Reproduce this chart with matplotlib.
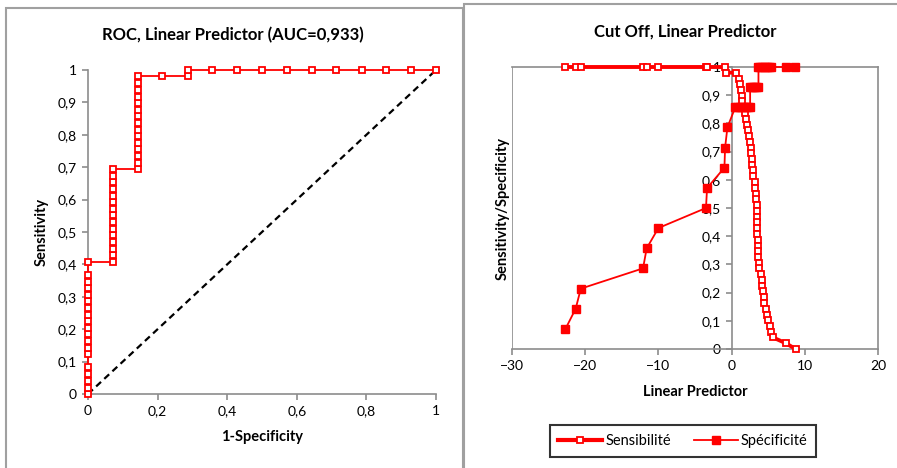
import matplotlib.pyplot as plt
from matplotlib.patches import Rectangle
from matplotlib.ticker import FuncFormatter
from matplotlib.lines import Line2D

plt.rcParams['font.family'] = ['Lato', 'DejaVu Sans']

# ROC curve points (1-specificity, sensitivity)
roc_fpr = [0, 0, 0, 0, 0, 0, 0, 0, 0, 0, 0, 0, 0, 0, 0, 0, 0, 0, 0,
           0.071, 0.071, 0.071, 0.071, 0.071, 0.071, 0.071, 0.071, 0.071, 0.071, 0.071, 0.071, 0.071, 0.071, 0.071,
           0.143, 0.143, 0.143, 0.143, 0.143, 0.143, 0.143, 0.143, 0.143, 0.143, 0.143, 0.143, 0.143, 0.143, 0.143,
           0.214, 0.286, 0.286, 0.357, 0.429, 0.5, 0.571, 0.643, 0.714, 0.786, 0.857, 0.929, 1.0]
roc_tpr = [0, 0.020, 0.041, 0.061, 0.082, 0.122, 0.143, 0.163, 0.184, 0.204, 0.224, 0.245, 0.265, 0.286, 0.306,
           0.327, 0.347, 0.367, 0.408,
           0.408, 0.429, 0.449, 0.469, 0.490, 0.510, 0.531, 0.551, 0.571, 0.592, 0.612, 0.633, 0.653, 0.673, 0.694,
           0.694, 0.714, 0.735, 0.755, 0.776, 0.796, 0.816, 0.837, 0.857, 0.878, 0.898, 0.918, 0.939, 0.959, 0.980,
           0.980, 0.980, 1, 1, 1, 1, 1, 1, 1, 1, 1, 1, 1]

# cut off chart: sensitivity vs linear predictor
sens_x = [-22.7, -21.2, -20.6, -12.1, -11.6, -10.1, -3.5, -3.3, -0.9, -0.75, 0.6,
          0.98, 1.16, 1.30, 1.40, 1.48, 1.64, 1.85, 1.98, 2.16, 2.30, 2.43, 2.53, 2.63, 2.67, 2.76, 2.85, 2.90, 2.98,
          3.21, 3.26, 3.31, 3.39, 3.45, 3.45, 3.49, 3.49, 3.53, 3.53, 3.56, 3.58, 3.62, 3.67, 3.72, 3.80,
          4.04, 4.13, 4.17, 4.27, 4.40, 4.49, 4.68, 4.86, 5.03, 5.23, 5.40, 5.64, 7.45, 8.73]
sens_y = [1, 1, 1, 1, 1, 1, 1, 1, 1, 0.980, 0.980,
          0.959, 0.939, 0.918, 0.898, 0.878, 0.857, 0.837, 0.816, 0.796, 0.776, 0.755, 0.735, 0.714, 0.694, 0.673,
          0.653, 0.633, 0.612, 0.592, 0.571, 0.551, 0.531, 0.510, 0.490, 0.469, 0.449, 0.429, 0.408, 0.388, 0.367,
          0.347, 0.327, 0.306, 0.286, 0.265, 0.245, 0.224, 0.204, 0.184, 0.163, 0.143, 0.122, 0.102, 0.082, 0.061,
          0.041, 0.020, 0]

# specificity vs linear predictor
spec_x = [-22.7, -21.3, -20.6, -12.1, -11.6, -10.0, -3.5, -3.35, -0.98, -0.89, -0.57,
          0.5, 0.8, 1.1, 1.4, 1.7, 2.0, 2.3, 2.53,
          2.53, 2.8, 3.1, 3.4, 3.67,
          3.67, 3.9, 4.2, 4.5, 4.8, 5.1, 5.4, 7.4, 8.7]
spec_y = [0.071, 0.143, 0.214, 0.286, 0.357, 0.429, 0.5, 0.571, 0.643, 0.714, 0.786,
          0.857, 0.857, 0.857, 0.857, 0.857, 0.857, 0.857, 0.857,
          0.929, 0.929, 0.929, 0.929, 0.929,
          1, 1, 1, 1, 1, 1, 1, 1, 1]

W, H = 897, 468
gray = '#8c8c8c'
red = '#ff0000'

def comma(v, pos):
    s = ('%g' % round(v, 2))
    return s.replace('.', ',')

fig = plt.figure(figsize=(W / 100, H / 100), dpi=100)

# the two chart frames
fig.patches.append(Rectangle((5.5 / W, -0.05), 457 / W, 1 - 8 / H + 0.05, transform=fig.transFigure,
                             fill=False, edgecolor='#a0a0a0', lw=1.5))
fig.patches.append(Rectangle((463.5 / W, -0.05), 0.6, 1 - 4.5 / H + 0.05, transform=fig.transFigure,
                             fill=False, edgecolor='#a0a0a0', lw=1.5))

# ---- ROC chart ----
ax1 = fig.add_axes([88 / W, (H - 394) / H, 348 / W, 324 / H])
ax1.plot([0, 1], [0, 1], color='black', ls=(0, (3, 2)), lw=1.6, zorder=2)
ax1.plot(roc_fpr, roc_tpr, color=red, lw=1.3, marker='s', ms=5, mfc='white', mec=red, mew=1.3,
         clip_on=False, zorder=3)
ax1.set_xlim(0, 1)
ax1.set_ylim(0, 1)
ax1.set_xticks([0, 0.2, 0.4, 0.6, 0.8, 1])
ax1.set_yticks([i / 10 for i in range(11)])
ax1.xaxis.set_major_formatter(FuncFormatter(comma))
ax1.yaxis.set_major_formatter(FuncFormatter(comma))
for s in ['top', 'right']:
    ax1.spines[s].set_visible(False)
for s in ['left', 'bottom']:
    ax1.spines[s].set_color(gray)
    ax1.spines[s].set_linewidth(1.2)
ax1.tick_params(direction='out', length=4, color=gray, width=1.2, labelsize=10, pad=4)
fig.text(233 / W, 1 - 35 / H, 'ROC, Linear Predictor (AUC=0,933)', fontsize=12, fontweight='bold',
         ha='center', va='center')
ax1.set_xlabel('1-Specificity', fontsize=10.5, fontweight='bold', va='center')
ax1.xaxis.set_label_coords(0.5, (394 - 437) / 324)
ax1.set_ylabel('Sensitivity', fontsize=10.5, fontweight='bold', va='center')
ax1.yaxis.set_label_coords((42 - 88) / 348, 0.5)

# ---- cut off chart ----
ax2 = fig.add_axes([512 / W, (H - 349) / H, 366 / W, 282 / H])
ax2.plot(sens_x, sens_y, color=red, lw=2.8, marker='s', ms=5, mfc='white', mec=red, mew=1.3,
         clip_on=False, zorder=3, label='Sensibilité')
ax2.plot(spec_x, spec_y, color=red, lw=1.3, marker='s', ms=5.5, mfc=red, mec=red,
         clip_on=False, zorder=4, label='Spécificité')
ax2.set_xlim(-30, 20)
ax2.set_ylim(0, 1)
ax2.set_xticks([-30, -20, -10, 0, 10, 20])
ax2.set_yticks([i / 10 for i in range(11)])
ax2.yaxis.set_major_formatter(FuncFormatter(comma))
ax2.spines['left'].set_position(('data', 0))
for s in ax2.spines.values():
    s.set_color(gray)
    s.set_linewidth(1.2)
ax2.axvline(-30, color=gray, lw=1.2, zorder=1)
ax2.tick_params(direction='out', length=4, color=gray, width=1.2, labelsize=10, pad=4)
fig.text(685 / W, 1 - 32 / H, 'Cut Off, Linear Predictor', fontsize=12, fontweight='bold',
         ha='center', va='center')
ax2.set_xlabel('Linear Predictor', fontsize=10.5, fontweight='bold', va='center')
ax2.xaxis.set_label_coords(0.5, (349 - 392) / 282)
ax2.set_ylabel('Sensitivity/Specificity', fontsize=10.5, fontweight='bold', va='center')
ax2.yaxis.set_label_coords((503 - 512) / 366, 0.5)

handles = [Line2D([], [], color=red, lw=3, marker='s', ms=5, mfc='white', mec=red, mew=1.3),
           Line2D([], [], color=red, lw=1.3, marker='s', ms=5.5, mfc=red, mec=red)]
leg = fig.legend(handles, ['Sensibilité', 'Spécificité'], loc='center', bbox_to_anchor=(683 / W, 1 - 441 / H),
                 ncol=2, fontsize=10.5, frameon=True, fancybox=False, edgecolor='black',
                 handlelength=3.0, columnspacing=1.6, borderpad=0.6, handletextpad=0.2)
leg.get_frame().set_linewidth(1.5)

fig.savefig('out.png', dpi=100)
